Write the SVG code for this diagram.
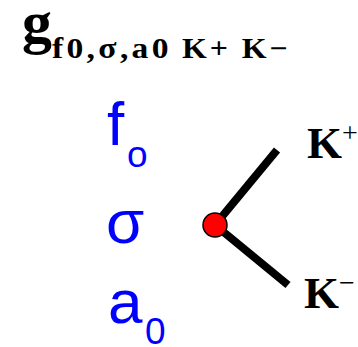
<svg xmlns="http://www.w3.org/2000/svg" width="358" height="347" viewBox="0 0 358 347">
<style>
.t{font-family:"Liberation Serif","Times New Roman",serif;font-weight:bold;fill:#000}
.b{font-family:"Liberation Sans",Arial,sans-serif;fill:#0000ff}
.ln{stroke:#000;stroke-width:8;fill:none}
</style>
<rect width="358" height="347" fill="#fff"/>
<g id="title">
<text class="t" x="22" y="42" font-size="60">g</text>
<text class="t" transform="translate(52,58) scale(1.12,1)" x="0" y="0" font-size="30" textLength="104" lengthAdjust="spacing">f0,σ,a0</text>
<text class="t" transform="translate(182,58) scale(1.1,1)" x="0" y="0" font-size="29" textLength="96" lengthAdjust="spacing">K+ K−</text>
</g>
<g id="params">
<text class="b" x="107" y="145" font-size="62">f</text>
<text class="b" x="127" y="167" font-size="37">o</text>
<text class="b" x="106" y="243" font-size="62">σ</text>
<text class="b" x="108" y="323" font-size="62">a</text>
<text class="b" x="145" y="344" font-size="37">0</text>
</g>
<g id="connectors">
<line class="ln" x1="215" y1="225" x2="277" y2="150"/>
<line class="ln" x1="215" y1="225" x2="288" y2="285"/>
</g>
<g id="vertex">
<circle cx="215" cy="225" r="12" fill="#ff0000" stroke="#000" stroke-width="1.5"/>
</g>
<g id="kplus">
<text class="t" x="307" y="158" font-size="45">K<tspan font-size="28" font-weight="normal" dy="-16">+</tspan></text>
</g>
<g id="kminus">
<text class="t" x="304" y="308" font-size="45">K<tspan font-size="28" font-weight="normal" dy="-16">−</tspan></text>
</g>
</svg>
